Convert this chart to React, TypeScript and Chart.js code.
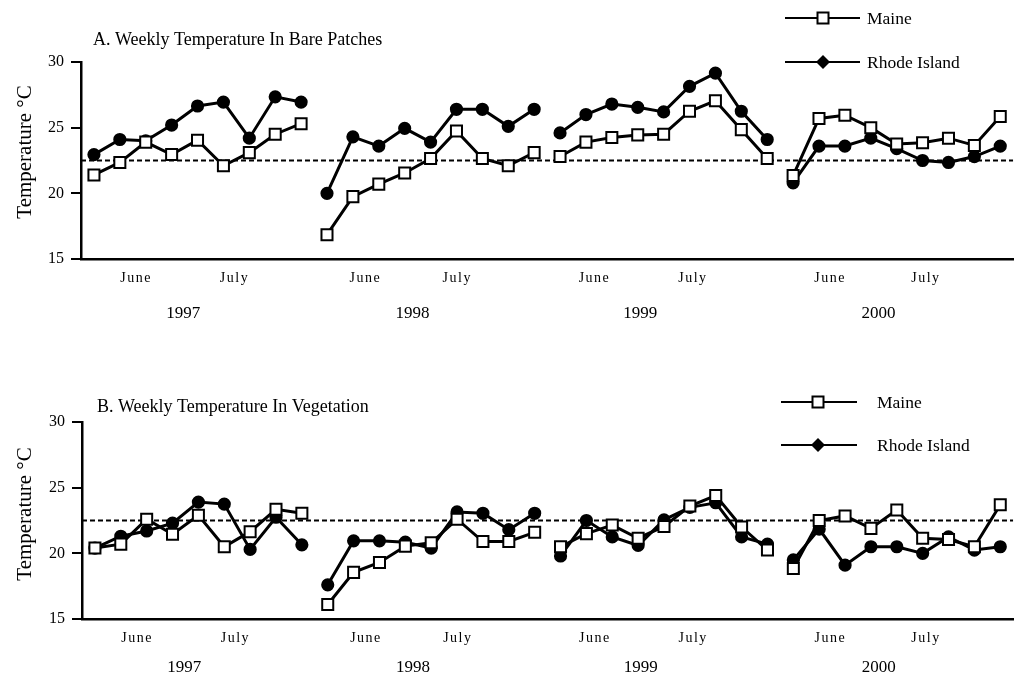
import React, { useEffect, useRef, useState } from "react";
import { Chart, registerables } from "chart.js";

Chart.register(...registerables);

// ---------- data ----------
const weeksPerYear = 9;
const years = ["1997", "1998", "1999", "2000"];
const yearLabelPositions = [3.45, 12.3, 21.1, 30.3];
const monthLabels = ["June", "July", "June", "July", "June", "July", "June", "July"];
const monthLabelPositions = [1.6, 5.4, 10.45, 14.0, 19.3, 23.1, 28.4, 32.1];
const yMin = 15;
const yMax = 30;
const yStep = 5;
const referenceTemp = 22.5;
const seriesNames = ["Maine", "Rhode Island"];
const yAxisTitle = "Temperature °C";
const titleBare = "A. Weekly Temperature In Bare Patches";
const titleVeg = "B. Weekly Temperature In Vegetation";

const maineBare = [
  21.4, 22.35, 23.9, 22.95, 24.05, 22.1, 23.1, 24.5, 25.3,
  16.85, 19.75, 20.7, 21.55, 22.65, 24.75, 22.65, 22.1, 23.1,
  22.8, 23.9, 24.25, 24.45, 24.5, 26.25, 27.05, 24.85, 22.65,
  21.35, 25.7, 25.95, 25.0, 23.75, 23.85, 24.2, 23.65, 25.85,
];
const rhodeIslandBare = [
  22.95, 24.1, 24.0, 25.2, 26.65, 26.95, 24.2, 27.35, 26.95,
  20.0, 24.3, 23.6, 24.95, 23.9, 26.4, 26.4, 25.1, 26.4,
  24.6, 26.0, 26.8, 26.55, 26.2, 28.15, 29.15, 26.25, 24.1,
  20.8, 23.6, 23.6, 24.2, 23.4, 22.5, 22.35, 22.8, 23.6,
];
const maineVeg = [
  20.4, 20.7, 22.6, 21.45, 22.9, 20.5, 21.65, 23.35, 23.05,
  16.1, 18.55, 19.3, 20.55, 20.8, 22.6, 20.9, 20.9, 21.6,
  20.5, 21.5, 22.15, 21.15, 22.05, 23.6, 24.4, 22.0, 20.25,
  18.85, 22.5, 22.85, 21.9, 23.3, 21.15, 21.05, 20.5, 23.7,
];
const rhodeIslandVeg = [
  20.4, 21.3, 21.7, 22.3, 23.9, 23.75, 20.3, 22.75, 20.65,
  17.6, 20.95, 20.95, 20.85, 20.4, 23.15, 23.05, 21.8, 23.05,
  19.8, 22.5, 21.25, 20.6, 22.55, 23.5, 23.85, 21.25, 20.7,
  19.5, 21.85, 19.1, 20.5, 20.5, 20.0, 21.25, 20.25, 20.5,
];

// ---------- styling ----------
const SERIF = "'Liberation Serif', 'DejaVu Serif', serif";

type PanelLayout = {
  top: number;
  height: number;
  padTop: number;
  padRight: number;
  yAxisWidth: number;
  xAxisHeight: number;
  titleX: number;
  titleY: number;
  yTitleY: number;
  yearOffset: number;
  legendLineX0: number;
  legendLineX1: number;
  legendMarkerX: number;
  legendTextX: number;
  legendY0: number;
  legendY1: number;
};

function buildYearDatasets(values: number[], kind: string) {
  const out: any[] = [];
  for (let y = 0; y < years.length; y++) {
    const pts = values
      .slice(y * weeksPerYear, (y + 1) * weeksPerYear)
      .map((v, i) => ({ x: y * weeksPerYear + i, y: v }));
    out.push({
      label: kind === "maine" ? seriesNames[0] : seriesNames[1],
      data: pts,
      borderColor: "#000",
      borderWidth: 3,
      pointStyle: kind === "maine" ? "rect" : "circle",
      pointRadius: kind === "maine" ? 7.8 : 5.6,
      pointBorderWidth: 2,
      pointBorderColor: "#000",
      pointBackgroundColor: kind === "maine" ? "#fff" : "#000",
      tension: 0,
      fill: false,
      order: kind === "maine" ? 0 : 1,
    });
  }
  return out;
}

// draw text centred at x with extra spacing between characters
function spacedText(ctx: CanvasRenderingContext2D, text: string, cx: number, cy: number, gap: number) {
  const widths = text.split("").map((ch) => ctx.measureText(ch).width);
  const total = widths.reduce((a, b) => a + b, 0) + gap * (text.length - 1);
  let x = cx - total / 2;
  const prevAlign = ctx.textAlign;
  ctx.textAlign = "left";
  text.split("").forEach((ch, i) => {
    ctx.fillText(ch, x, cy);
    x += widths[i] + gap;
  });
  ctx.textAlign = prevAlign;
}

function makeTextPlugin(title: string, L: PanelLayout) {
  return {
    id: "panelText",
    afterDraw(chart: any) {
      const ctx = chart.ctx as CanvasRenderingContext2D;
      const xs = chart.scales.x;
      const area = chart.chartArea;
      ctx.save();
      ctx.fillStyle = "#000";
      ctx.strokeStyle = "#000";

      ctx.font = `18px ${SERIF}`;
      ctx.textAlign = "left";
      ctx.textBaseline = "alphabetic";
      ctx.fillText(title, L.titleX, L.titleY);

      ctx.font = `14px ${SERIF}`;
      ctx.textAlign = "center";
      ctx.textBaseline = "middle";
      monthLabelPositions.forEach((v, i) => {
        spacedText(ctx, monthLabels[i], xs.getPixelForValue(v), area.bottom + 19, 1.5);
      });

      ctx.font = `17px ${SERIF}`;
      yearLabelPositions.forEach((v, i) => {
        ctx.fillText(years[i], xs.getPixelForValue(v), area.bottom + L.yearOffset);
      });

      ctx.save();
      ctx.translate(25, L.yTitleY);
      ctx.rotate(-Math.PI / 2);
      ctx.font = `21px ${SERIF}`;
      ctx.textAlign = "center";
      ctx.textBaseline = "middle";
      ctx.fillText(yAxisTitle, 0, 0);
      ctx.restore();

      const rows = [L.legendY0, L.legendY1];
      rows.forEach((ly, r) => {
        ctx.lineWidth = 2;
        ctx.strokeStyle = "#000";
        ctx.beginPath();
        ctx.moveTo(L.legendLineX0, ly);
        ctx.lineTo(L.legendLineX1, ly);
        ctx.stroke();
        const mx = L.legendMarkerX;
        if (r === 0) {
          ctx.fillStyle = "#fff";
          ctx.fillRect(mx - 5.5, ly - 5.5, 11, 11);
          ctx.strokeRect(mx - 5.5, ly - 5.5, 11, 11);
        } else {
          ctx.fillStyle = "#000";
          ctx.beginPath();
          ctx.moveTo(mx, ly - 7);
          ctx.lineTo(mx + 7, ly);
          ctx.lineTo(mx, ly + 7);
          ctx.lineTo(mx - 7, ly);
          ctx.closePath();
          ctx.fill();
        }
        ctx.fillStyle = "#000";
        ctx.font = `17.5px ${SERIF}`;
        ctx.textAlign = "left";
        ctx.textBaseline = "middle";
        ctx.fillText(seriesNames[r], L.legendTextX, ly + 1);
      });
      ctx.restore();
    },
  };
}

function Panel(props: { maine: number[]; ri: number[]; title: string; lay: PanelLayout }) {
  const { maine, ri, title, lay } = props;
  const ref = useRef<HTMLCanvasElement | null>(null);
  const [err, setErr] = useState("");
  useEffect(() => {
    if (!ref.current) return;
    let chart: any = null;
    try {
      const n = maine.length;
      const datasets: any[] = [
        ...buildYearDatasets(maine, "maine"),
        ...buildYearDatasets(ri, "ri"),
        {
          label: "reference",
          data: [
            { x: -0.5, y: referenceTemp },
            { x: n - 0.5, y: referenceTemp },
          ],
          borderColor: "#000",
          borderWidth: 2,
          borderDash: [5, 3],
          pointRadius: 0,
          fill: false,
          order: 5,
        },
      ];
      chart = new Chart(ref.current, {
        type: "line",
        data: { datasets },
        options: {
          animation: false,
          responsive: false,
          layout: { padding: { top: lay.padTop, right: lay.padRight, left: 0, bottom: 0 } },
          plugins: {
            legend: { display: false },
            tooltip: { enabled: false },
          },
          scales: {
            x: {
              type: "linear",
              min: -0.5,
              max: n - 0.5,
              grid: { display: false },
              ticks: { display: false },
              border: { display: true, color: "#000", width: 2.5 },
              afterFit: (s: any) => {
                s.height = lay.xAxisHeight;
              },
            },
            y: {
              type: "linear",
              min: yMin,
              max: yMax,
              ticks: {
                stepSize: yStep,
                color: "#000",
                padding: 7,
                font: { family: SERIF, size: 16 },
              },
              grid: {
                drawOnChartArea: false,
                drawTicks: true,
                tickLength: 10,
                color: "#000",
                lineWidth: 2,
              },
              border: { display: true, color: "#000", width: 2.5 },
              afterFit: (s: any) => {
                s.width = lay.yAxisWidth;
              },
            },
          },
        } as any,
        plugins: [makeTextPlugin(title, lay)],
      });
    } catch (e: any) {
      setErr(String(e && e.stack ? e.stack : e));
    }
    return () => {
      if (chart) chart.destroy();
    };
  }, []);
  return (
    <>
      <canvas
        ref={ref}
        width={1023}
        height={lay.height}
        style={{ position: "absolute", left: 0, top: lay.top, width: 1023, height: lay.height }}
      />
      {err ? <pre style={{ position: "absolute", left: 10, top: lay.top + 10, fontSize: 11 }}>{err}</pre> : null}
    </>
  );
}

const layoutA: PanelLayout = {
  top: 0,
  height: 338,
  padTop: 62,
  padRight: 2,
  yAxisWidth: 81,
  xAxisHeight: 79,
  titleX: 93,
  titleY: 45,
  yTitleY: 152,
  yearOffset: 55,
  legendLineX0: 785,
  legendLineX1: 860,
  legendMarkerX: 823,
  legendTextX: 867,
  legendY0: 18,
  legendY1: 62,
};

const layoutB: PanelLayout = {
  top: 338,
  height: 338,
  padTop: 84,
  padRight: 8,
  yAxisWidth: 82,
  xAxisHeight: 57,
  titleX: 97,
  titleY: 74,
  yTitleY: 176,
  yearOffset: 49,
  legendLineX0: 781,
  legendLineX1: 857,
  legendMarkerX: 818,
  legendTextX: 877,
  legendY0: 64,
  legendY1: 107,
};

export default function App() {
  return (
    <div>
      <Panel maine={maineBare} ri={rhodeIslandBare} title={titleBare} lay={layoutA} />
      <Panel maine={maineVeg} ri={rhodeIslandVeg} title={titleVeg} lay={layoutB} />
    </div>
  );
}
